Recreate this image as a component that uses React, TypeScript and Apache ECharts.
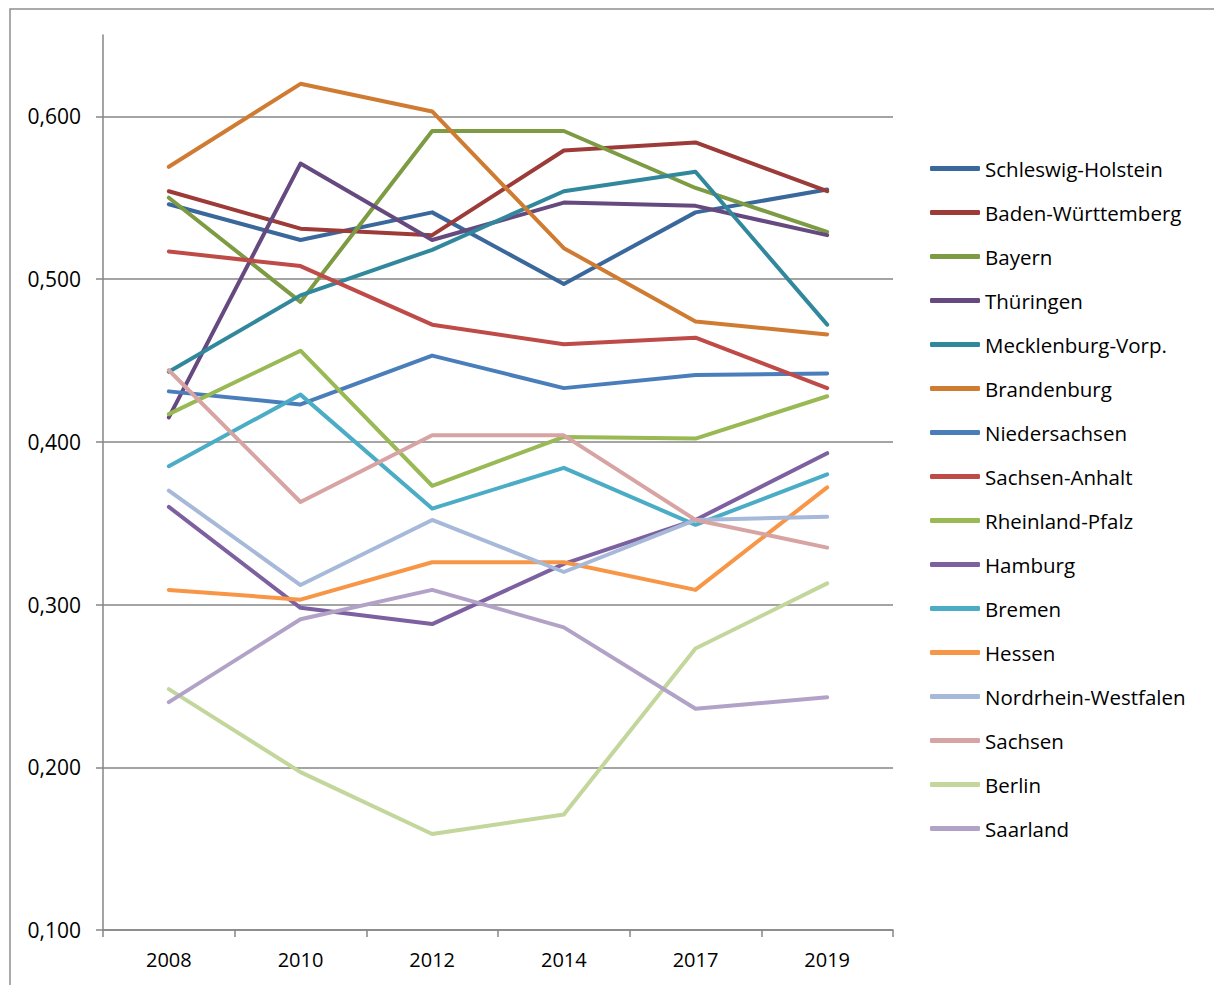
import React, { useEffect, useRef } from "react";
import * as echarts from "echarts";

const years = ["2008", "2010", "2012", "2014", "2017", "2019"];

const seriesNames = [
  "Schleswig-Holstein",
  "Baden-Württemberg",
  "Bayern",
  "Thüringen",
  "Mecklenburg-Vorp.",
  "Brandenburg",
  "Niedersachsen",
  "Sachsen-Anhalt",
  "Rheinland-Pfalz",
  "Hamburg",
  "Bremen",
  "Hessen",
  "Nordrhein-Westfalen",
  "Sachsen",
  "Berlin",
  "Saarland",
];

const schleswigHolstein = [0.546, 0.524, 0.541, 0.497, 0.541, 0.555];
const badenWuerttemberg = [0.554, 0.531, 0.527, 0.579, 0.584, 0.554];
const bayern = [0.55, 0.486, 0.591, 0.591, 0.556, 0.529];
const thueringen = [0.415, 0.571, 0.524, 0.547, 0.545, 0.527];
const mecklenburgVorp = [0.443, 0.49, 0.518, 0.554, 0.566, 0.472];
const brandenburg = [0.569, 0.62, 0.603, 0.519, 0.474, 0.466];
const niedersachsen = [0.431, 0.423, 0.453, 0.433, 0.441, 0.442];
const sachsenAnhalt = [0.517, 0.508, 0.472, 0.46, 0.464, 0.433];
const rheinlandPfalz = [0.417, 0.456, 0.373, 0.403, 0.402, 0.428];
const hamburg = [0.36, 0.298, 0.288, 0.325, 0.352, 0.393];
const bremen = [0.385, 0.429, 0.359, 0.384, 0.349, 0.38];
const hessen = [0.309, 0.303, 0.326, 0.326, 0.309, 0.372];
const nordrheinWestfalen = [0.37, 0.312, 0.352, 0.32, 0.352, 0.354];
const sachsen = [0.444, 0.363, 0.404, 0.404, 0.352, 0.335];
const berlin = [0.248, 0.197, 0.159, 0.171, 0.273, 0.313];
const saarland = [0.24, 0.291, 0.309, 0.286, 0.236, 0.243];

const seriesValues = [
  schleswigHolstein,
  badenWuerttemberg,
  bayern,
  thueringen,
  mecklenburgVorp,
  brandenburg,
  niedersachsen,
  sachsenAnhalt,
  rheinlandPfalz,
  hamburg,
  bremen,
  hessen,
  nordrheinWestfalen,
  sachsen,
  berlin,
  saarland,
];

const seriesColors = [
  "#3a679c",
  "#9c3b38",
  "#7d9b42",
  "#65497f",
  "#31889c",
  "#d07b32",
  "#4a7ebb",
  "#be4b48",
  "#98b954",
  "#7d60a0",
  "#4bacc6",
  "#f79646",
  "#a7b9d8",
  "#d7a4a3",
  "#c3d69b",
  "#b3a2c7",
];

const yTicks = [0.1, 0.2, 0.3, 0.4, 0.5, 0.6];

const FONT = "'Open Sans', sans-serif";

export default function App() {
  const ref = useRef<HTMLDivElement>(null);

  useEffect(() => {
    if (!ref.current) return;
    const chart = echarts.init(ref.current, null, { renderer: "svg" });
    const option: any = {
      animation: false,
      backgroundColor: "#ffffff",
      textStyle: { fontFamily: FONT },
      grid: { left: 103, right: 321, top: 35, bottom: 55, containLabel: false },
      graphic: [
        {
          type: "rect",
          shape: { x: 10, y: 9, width: 1400, height: 1200 },
          style: { fill: "none", stroke: "#8f8f8f", lineWidth: 1.5 },
          silent: true,
          z: -1,
        },
      ],
      legend: {
        orient: "vertical",
        left: 930,
        top: 158,
        padding: 0,
        icon: "roundRect",
        itemWidth: 50,
        itemHeight: 5,
        itemGap: 23,
        textStyle: { fontFamily: FONT, fontSize: 20.5, color: "#000", lineHeight: 21 },
        data: seriesNames,
      },
      xAxis: {
        type: "category",
        data: years,
        boundaryGap: true,
        axisLine: { lineStyle: { color: "#868686", width: 1.5 } },
        axisTick: { show: true, length: 7, inside: false, lineStyle: { color: "#868686", width: 1.5 } },
        axisLabel: { color: "#000", fontFamily: FONT, fontSize: 20, margin: 19 },
        splitLine: { show: false },
      },
      yAxis: {
        type: "value",
        min: 0.1,
        max: 0.65,
        interval: 0.1,
        axisLine: { show: true, lineStyle: { color: "#868686", width: 1.5 } },
        axisTick: { show: true, length: 7, customValues: yTicks, lineStyle: { color: "#868686", width: 1.5 } },
        axisLabel: {
          color: "#000",
          fontFamily: FONT,
          fontSize: 21,
          margin: 22,
          customValues: yTicks,
          formatter: (v: number) => v.toFixed(3).replace(".", ","),
        },
        splitLine: { show: true, lineStyle: { color: "#868686", width: 1.5 } },
      },
      series: seriesNames.map((name, i) => ({
        name,
        type: "line",
        data: seriesValues[i],
        symbol: "none",
        lineStyle: { width: 4, color: seriesColors[i], cap: "round", join: "round" },
        itemStyle: { color: seriesColors[i] },
      })),
    };
    chart.setOption(option);
    return () => chart.dispose();
  }, []);

  return (
    <div
      ref={ref}
      style={{ position: "absolute", left: 0, top: 0, width: 1214, height: 985 }}
    />
  );
}
